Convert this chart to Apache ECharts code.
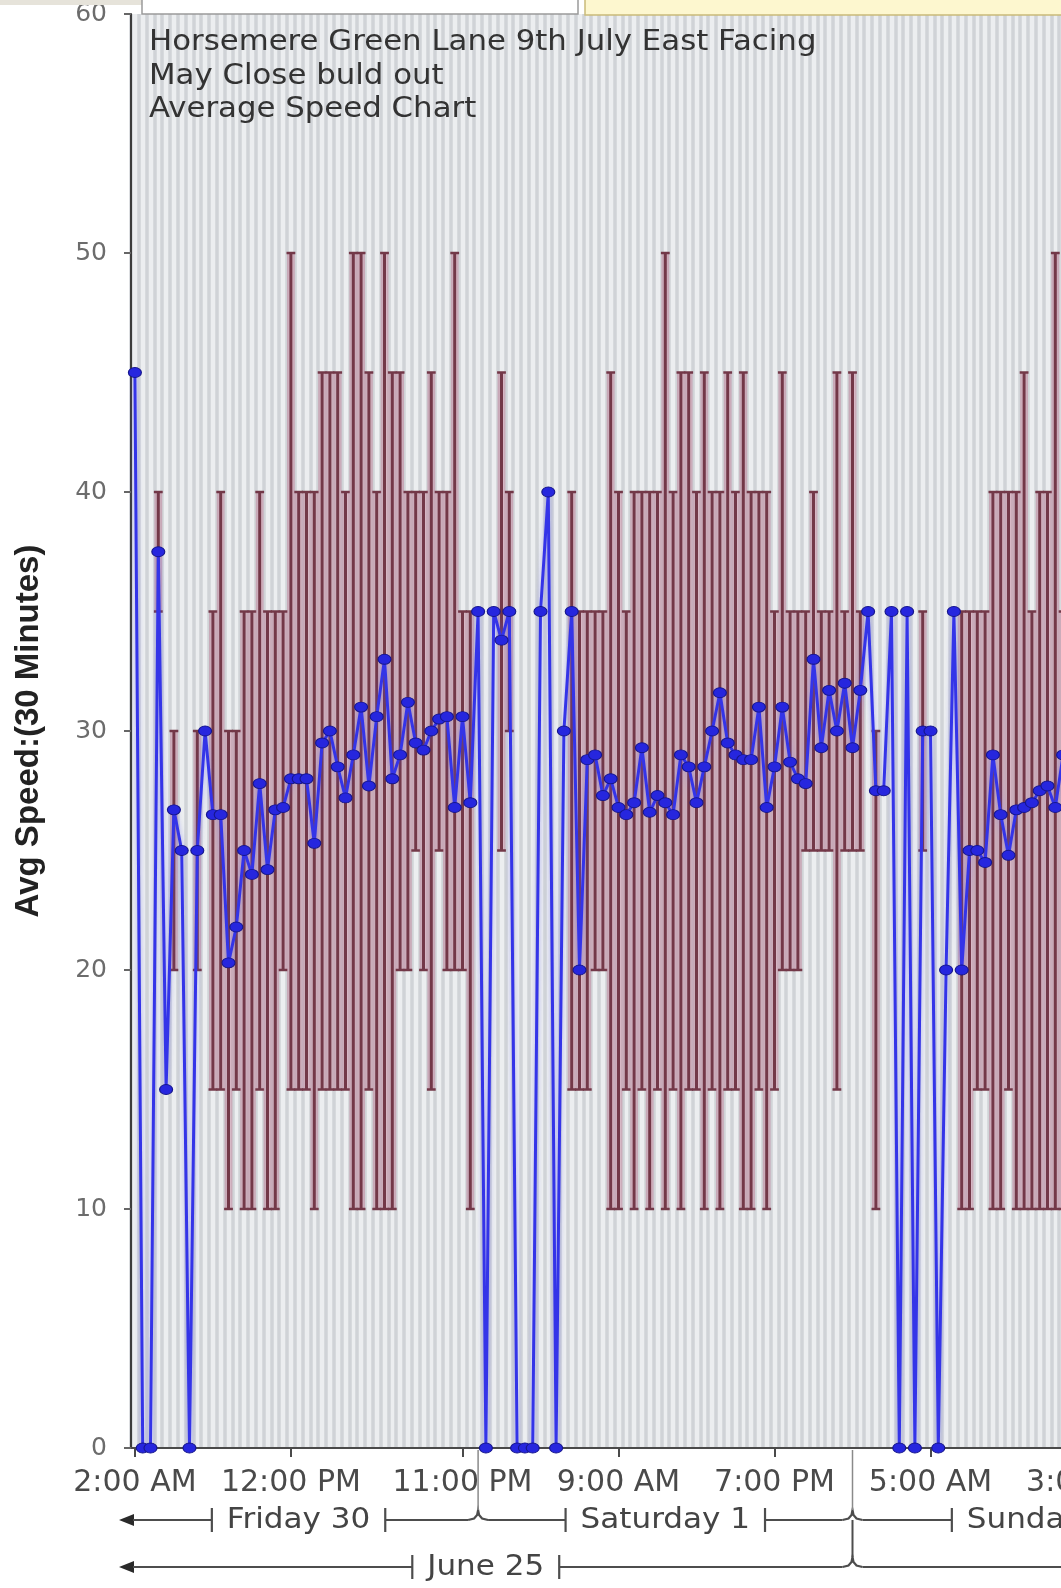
<!DOCTYPE html>
<html><head><meta charset="utf-8">
<script src="https://cdn.jsdelivr.net/npm/echarts@6/dist/echarts.min.js"></script>
<style>html,body{margin:0;padding:0;background:#fff;overflow:hidden;} #main{width:1100px;height:1588px;}</style>
</head><body><div id="main"></div>
<script>
// ---- data (one value per 30-minute slot, starting Friday 30 June 2:00 AM) ----
const avgSpeed = [
 45,0,0,37.5,15,26.7,25,0,25,30,
 26.5,26.5,20.3,21.8,25,24,27.8,24.2,26.7,26.8,
 28,28,28,25.3,29.5,30,28.5,27.2,29,31,
 27.7,30.6,33,28,29,31.2,29.5,29.2,30,30.5,
 30.6,26.8,30.6,27,35,0,35,33.8,35,0,
 0,0,35,40,0,30,35,20,28.8,29,
 27.3,28,26.8,26.5,27,29.3,26.6,27.3,27,26.5,
 29,28.5,27,28.5,30,31.6,29.5,29,28.8,28.8,
 31,26.8,28.5,31,28.7,28,27.8,33,29.3,31.7,
 30,32,29.3,31.7,35,27.5,27.5,35,0,35,
 0,30,30,0,20,35,20,25,25,24.5,
 29,26.5,24.8,26.7,26.8,27,27.5,27.7,26.8,29
];
const maxSpeed = [
 null,null,null,40,null,30,null,null,30,null,
 35,40,30,30,35,35,40,35,35,35,
 50,40,40,40,45,45,45,40,50,50,
 45,40,50,45,45,40,40,40,45,40,
 40,50,35,35,null,null,null,45,40,null,
 null,null,null,null,null,null,40,35,35,35,
 35,45,40,35,40,40,40,40,50,40,
 45,45,40,45,40,40,45,40,45,40,
 40,40,35,45,35,35,35,40,35,35,
 45,35,45,35,null,30,null,null,null,null,
 null,35,null,null,null,null,35,35,35,35,
 40,40,40,40,45,35,40,40,50,35
];
const minSpeed = [
 null,null,null,35,null,20,null,null,20,null,
 15,15,10,15,10,10,15,10,10,20,
 15,15,15,10,15,15,15,15,10,10,
 15,10,10,10,20,20,25,20,15,25,
 20,20,20,10,null,null,null,25,30,null,
 null,null,null,null,null,null,15,15,15,20,
 20,10,10,15,10,15,10,15,10,15,
 10,15,15,10,15,10,15,15,10,10,
 15,10,15,20,20,20,25,25,25,25,
 15,25,25,25,null,10,null,null,null,null,
 null,25,null,null,null,null,10,10,15,15,
 10,10,15,10,10,10,10,10,10,10
];
const tickSlots = [0, 20, 42, 62, 82, 102, 122];
const tickLabels = ['2:00 AM','12:00 PM','11:00 PM','9:00 AM','7:00 PM','5:00 AM','3:00 PM'];
const dayLabels = ['Friday 30', 'Saturday 1', 'Sunday 2'];
const midnightSlots = [44, 92, 140];
const weekLabels = ['June 25'];
const weekEndSlots = [92];
const titleLines = ['Horsemere Green Lane 9th July East Facing', 'May Close buld out', 'Average Speed Chart'];
const yAxisTitle = 'Avg Speed:(30 Minutes)';
const slotCount = 124;

const categories = [];
for (let k = 0; k < slotCount; k++) {
  const m = (120 + 30 * k) % 1440;
  const h = Math.floor(m / 60), mi = m % 60;
  let h12 = h % 12; if (h12 === 0) h12 = 12;
  categories.push(h12 + ':' + (mi < 10 ? '0' : '') + mi + ' ' + (h < 12 ? 'AM' : 'PM'));
}
const errData = [];
for (let k = 0; k < avgSpeed.length; k++) {
  if (minSpeed[k] != null && maxSpeed[k] != null) errData.push([k, minSpeed[k], maxSpeed[k]]);
}

const chart = echarts.init(document.getElementById('main'), null, {renderer: 'canvas'});
const gridLeft = 131, slotPx = 7.8;

function renderErr(params, api) {
  const k = api.value(0);
  const lo = api.coord([k, api.value(1)]);
  const hi = api.coord([k, api.value(2)]);
  const w = api.size([1, 0])[0];
  const x = lo[0];
  const stroke = '#733848';
  return {type: 'group', children: [
    {type: 'rect', shape: {x: x - w / 2, y: hi[1], width: w, height: lo[1] - hi[1]}, style: {fill: 'rgba(190,118,145,0.46)'}},
    {type: 'line', shape: {x1: x, y1: hi[1], x2: x, y2: lo[1]}, style: {stroke: stroke, lineWidth: 3}},
    {type: 'line', shape: {x1: x - w / 2 - 0.5, y1: hi[1], x2: x + w / 2 + 0.5, y2: hi[1]}, style: {stroke: stroke, lineWidth: 2.5}},
    {type: 'line', shape: {x1: x - w / 2 - 0.5, y1: lo[1], x2: x + w / 2 + 0.5, y2: lo[1]}, style: {stroke: stroke, lineWidth: 2.5}}
  ]};
}

const option = {
  backgroundColor: '#ffffff',
  animation: false,
  grid: {left: gridLeft, top: 14, width: slotPx * slotCount, height: 1434, show: true, backgroundColor: '#eceef0', borderWidth: 0,
    containLabel: false, outerBoundsMode: 'none'},
  xAxis: {
    type: 'category', data: categories, boundaryGap: true,
    axisLine: {lineStyle: {color: '#4a4a4a', width: 2}},
    axisTick: {show: true, alignWithLabel: true, length: 9, lineStyle: {color: '#4a4a4a', width: 2},
      interval: function (i) { return tickSlots.indexOf(i) >= 0; }},
    axisLabel: {interval: function (i) { return tickSlots.indexOf(i) >= 0; },
      formatter: function (v, i) { const j = tickSlots.indexOf(i); return j >= 0 ? tickLabels[j] : ''; },
      fontFamily: 'DejaVu Sans', fontSize: 30, color: '#4a4a4a', margin: 20, hideOverlap: false},
    splitLine: {show: true, interval: 0, lineStyle: {color: '#d0d3d7', width: 3.5}}
  },
  yAxis: {
    type: 'value', min: 0, max: 60, interval: 10,
    name: yAxisTitle, nameLocation: 'middle', nameGap: 86, nameRotate: 90,
    nameTextStyle: {fontFamily: 'Liberation Sans', fontWeight: 'bold', fontSize: 33, color: '#222'},
    axisLine: {show: true, lineStyle: {color: '#3c3c3c', width: 2}},
    axisTick: {show: true, length: 7, lineStyle: {color: '#666', width: 2}},
    axisLabel: {fontFamily: 'DejaVu Sans', fontSize: 25, color: '#6c6c6c', margin: 24},
    splitLine: {show: false}
  },
  series: [
    {type: 'custom', name: 'Range', renderItem: renderErr, data: errData, z: 3, clip: true,
      encode: {x: 0, y: [1, 2]}},
    {type: 'line', name: 'Avg Speed', data: avgSpeed, symbol: 'circle', symbolSize: [13, 10], z: 5,
      showSymbol: true, showAllSymbol: true,
      lineStyle: {color: '#3434e8', width: 3, shadowColor: 'rgba(80,80,240,0.45)', shadowBlur: 5},
      itemStyle: {color: '#2626de', borderColor: '#16168c', borderWidth: 1}}
  ]
};
chart.setOption(option);

// ---- decorations: title text, top boxes, day / week brackets ----
const px = k => chart.convertToPixel({xAxisIndex: 0}, k);
const slotW = px(1) - px(0);
const pxAny = k => px(0) + k * slotW;
const axisY = chart.convertToPixel({yAxisIndex: 0}, 0);
const ctx = document.createElement('canvas').getContext('2d');
const rowFont = '29px "DejaVu Sans"', rowSX = 1.07;
function tw(t, font) { ctx.font = font; return ctx.measureText(t).width; }
const G = [];
const ink = '#4d4d4d';
function seg(x1, y1, x2, y2, c, w) { G.push({type: 'line', z: 50, shape: {x1, y1, x2, y2}, style: {stroke: c || ink, lineWidth: w || 2.2}}); }
function notch(x, y) { G.push({type: 'polyline', z: 50, shape: {points: [[x - 10, y], [x - 4, y - 1.5], [x - 1, y - 5], [x, y - 10], [x + 1, y - 5], [x + 4, y - 1.5], [x + 10, y]]}, style: {stroke: ink, lineWidth: 2.2, fill: null}}); }
function arrow(x, y) { G.push({type: 'polygon', z: 50, shape: {points: [[x, y], [x + 15, y - 6], [x + 15, y + 6]]}, style: {fill: '#2a2a2a'}}); }
function label(c, y, text) { G.push({type: 'text', z: 50, x: c, y: y, scaleX: rowSX, style: {text: text, font: rowFont, fill: '#444', textAlign: 'center', textVerticalAlign: 'middle'}}); }
function bracket(y, a, b, text, leftNotch, rightNotch, openLeft) {
  const c = (a + b) / 2, w = tw(text, rowFont) * rowSX, gap = 15;
  const l = c - w / 2 - gap, r = c + w / 2 + gap;
  if (openLeft) { arrow(a, y); seg(a + 14, y, l, y); } else seg(a + (leftNotch ? 10 : 0), y, l, y);
  seg(l, y - 12, l, y + 12); seg(r, y - 12, r, y + 12);
  seg(r, y, b - (rightNotch ? 10 : 0), y);
  label(c, y, text);
}
const dayY = 1520, weekY = 1567, arrowX = gridLeft - 12;
const m1 = px(midnightSlots[0]), m2 = px(midnightSlots[1]), m3 = pxAny(midnightSlots[2]);
bracket(dayY, arrowX, m1, dayLabels[0], false, true, true);
bracket(dayY, m1, m2, dayLabels[1], true, true, false);
bracket(dayY, m2, m3, dayLabels[2], true, false, false);
notch(m1, dayY); notch(m2, dayY);
const wEnd = pxAny(weekEndSlots[0]);
bracket(weekY, arrowX, wEnd, weekLabels[0], false, true, true);
notch(wEnd, weekY);
seg(wEnd + 10, weekY, 1100, weekY);
seg(m1, axisY + 2, m1, dayY - 10, '#8a8a8a', 1.5);
seg(m2, axisY + 2, m2, dayY - 10, '#8a8a8a', 1.5);
seg(m2, dayY, m2, weekY - 10, ink, 2);

titleLines.forEach(function (t, i) {
  G.push({type: 'text', z: 40, x: 149, y: 43 + i * 33.3, scaleX: 1.1,
    style: {text: t, font: '28px "DejaVu Sans"', fill: '#333333', textAlign: 'left', textVerticalAlign: 'middle'}});
});
G.push({type: 'rect', z: 60, shape: {x: 0, y: 0, width: 142, height: 5}, style: {fill: '#e6e3da'}});
G.push({type: 'rect', z: 60, shape: {x: 142, y: -3, width: 436, height: 17}, style: {fill: '#ffffff', stroke: '#9a9a9a', lineWidth: 1.5}});
G.push({type: 'rect', z: 60, shape: {x: 585, y: -3, width: 520, height: 18}, style: {fill: '#fdf7cf', stroke: '#c9bb7a', lineWidth: 1.5}});

chart.setOption({graphic: G});
</script>
</body></html>
